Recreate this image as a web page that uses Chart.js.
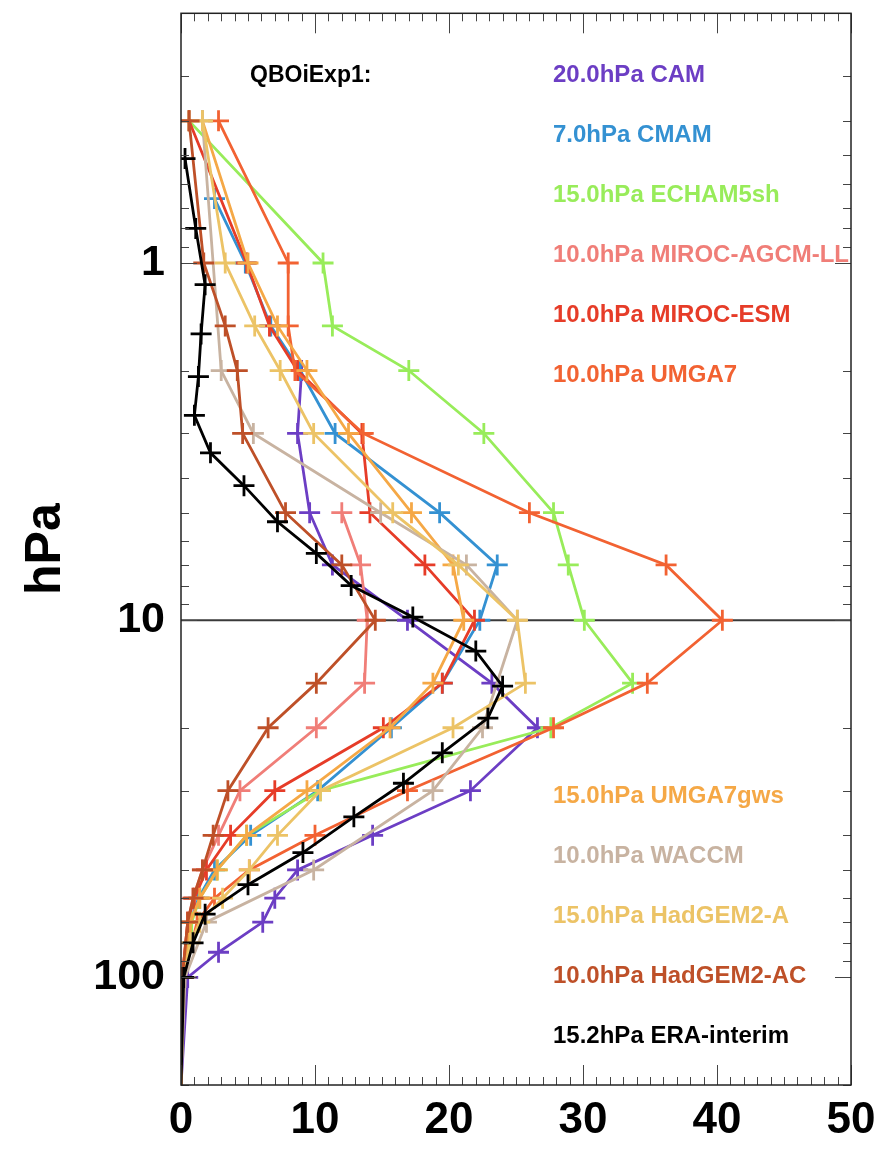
<!DOCTYPE html>
<html lang="en">
<head>
    <meta charset="UTF-8">
    <title>QBOiExp1 amplitude profiles</title>
    <script src="https://cdn.jsdelivr.net/npm/chart.js"></script>
    <style>
        body { margin: 0; background: #fff; }
        canvas { display: block; }
    </style>
</head>
<body>
    <canvas id="grafico" width="879" height="1149"></canvas>

    <script>
        // Amplitude (x) vs pressure in hPa (y), one pair of arrays per model
        const camP = [2, 3, 5, 7, 10, 15, 20, 30, 40, 50, 60, 70, 85, 100, 200];
        const camU = [9.0, 8.7, 9.6, 11.3, 16.9, 23.2, 26.6, 21.6, 14.3, 8.7, 7.0, 6.1, 2.8, 0.5, 0];

        const cmamP = [0.66, 1, 1.5, 2, 3, 5, 7, 10, 15, 20, 30, 40, 50, 60, 70, 100, 200];
        const cmamU = [2.5, 4.8, 6.7, 8.9, 11.5, 19.3, 23.6, 22.3, 19.5, 15.7, 10.2, 5.2, 2.5, 1.3, 0.7, 0.2, 0];

        const echamP = [0.4, 1, 1.5, 2, 3, 5, 7, 10, 15, 20, 30, 40, 50, 60, 70, 100, 200];
        const echamU = [0.6, 10.6, 11.3, 17.0, 22.6, 27.8, 28.9, 30.1, 33.7, 27.6, 10.4, 4.9, 2.7, 1.4, 0.8, 0.1, 0];

        const mirocLLP = [5, 7, 10, 15, 20, 30, 40, 50, 60, 70, 100, 200];
        const mirocLLU = [12.0, 13.4, 13.9, 13.7, 10.1, 4.4, 2.8, 1.6, 0.9, 0.5, 0.1, 0];

        const mirocEsmP = [0.4, 1, 1.5, 2, 3, 5, 7, 10, 15, 20, 30, 40, 50, 60, 70, 100, 200];
        const mirocEsmU = [0.6, 4.9, 6.6, 8.7, 13.5, 14.1, 18.2, 21.9, 19.5, 15.1, 7.0, 3.7, 1.9, 1.0, 0.5, 0.1, 0];

        const umga7P = [0.4, 1, 1.5, 2, 3, 5, 7, 10, 15, 20, 30, 40, 50, 60, 70, 100, 200];
        const umga7U = [2.8, 8.0, 8.0, 8.5, 13.6, 26.0, 36.2, 40.4, 34.8, 27.8, 16.9, 10.0, 5.1, 2.5, 1.2, 0.2, 0];

        const gwsP = [0.4, 1, 1.5, 2, 3, 5, 7, 10, 15, 20, 30, 40, 50, 60, 70, 100, 200];
        const gwsU = [1.6, 5.0, 7.2, 9.4, 12.5, 17.2, 20.3, 21.1, 18.8, 15.6, 9.4, 4.9, 2.7, 1.4, 0.7, 0.1, 0];

        const waccmP = [0.4, 2, 3, 5, 7, 10, 20, 30, 50, 70, 100, 200];
        const waccmU = [1.6, 3.0, 5.4, 14.9, 21.3, 25.1, 22.5, 18.8, 9.9, 1.9, 0.3, 0];

        const hadAP = [0.4, 1, 1.5, 2, 3, 5, 7, 10, 15, 20, 30, 40, 50, 60, 70, 80, 100, 200];
        const hadAU = [1.6, 3.3, 5.5, 7.4, 9.9, 15.8, 20.7, 25.1, 25.7, 20.3, 10.4, 7.2, 5.1, 3.1, 1.4, 0.7, 0.2, 0];

        const hadAcP = [0.4, 1, 1.5, 2, 3, 5, 7, 10, 15, 20, 30, 40, 50, 60, 70, 100, 200];
        const hadAcU = [0.6, 1.7, 3.3, 4.2, 4.6, 7.8, 12.0, 14.5, 10.1, 6.5, 3.5, 2.4, 1.6, 0.9, 0.5, 0.1, 0];

        const eraP = [0.51, 0.8, 1.15, 1.58, 2.08, 2.67, 3.4, 4.2, 5.3, 6.5, 8.0, 9.8, 12.2, 15.3, 18.8, 23.5, 28.6, 35.5, 44.7, 55, 66.5, 80, 100, 200];
        const eraU = [0.3, 1.1, 1.8, 1.5, 1.3, 1.0, 2.2, 4.7, 7.2, 10.1, 12.7, 17.3, 22.0, 24.0, 22.9, 19.5, 16.6, 12.9, 9.1, 5.0, 1.8, 0.9, 0.2, 0];

        const labels = ['20.0hPa CAM', '7.0hPa CMAM', '15.0hPa ECHAM5sh', '10.0hPa MIROC-AGCM-LL',
            '10.0hPa MIROC-ESM', '10.0hPa UMGA7', '15.0hPa UMGA7gws', '10.0hPa WACCM',
            '15.0hPa HadGEM2-A', '10.0hPa HadGEM2-AC', '15.2hPa ERA-interim'];
        const colores = ['#6c3ec4', '#3491d2', '#98ec5a', '#f07e78', '#e63c28', '#f26232',
            '#f5a846', '#c8b3a1', '#ecc366', '#be5028', '#000000'];
        const xTicks = [0, 10, 20, 30, 40, 50];
        const yTicks = [1, 10, 100];

        const series = [
            [camP, camU], [cmamP, cmamU], [echamP, echamU], [mirocLLP, mirocLLU],
            [mirocEsmP, mirocEsmU], [umga7P, umga7U], [gwsP, gwsU], [waccmP, waccmU],
            [hadAP, hadAU], [hadAcP, hadAcU], [eraP, eraU]
        ];

        const fuente = '"Liberation Sans", Arial, Helvetica, sans-serif';

        const datasets = series.map(([p, u], i) => ({
            label: labels[i],
            data: p.map((v, k) => ({ x: u[k], y: v })),
            borderColor: colores[i],
            backgroundColor: colores[i],
            borderWidth: 2.8,
            pointStyle: 'cross',
            // no marker on the last point (bottom of the axis)
            pointRadius: ctx => ctx.dataIndex === ctx.dataset.data.length - 1 ? 0 : 10.5,
            pointBorderWidth: 2.8,
            pointHoverRadius: 10.5,
            fill: false,
            tension: 0,
            order: series.length - i
        }));

        // frame, inward ticks, tick labels, 10 hPa line and the in-plot labels
        const marco = {
            id: 'marco',
            beforeDatasetsDraw(chart) {
                const { ctx, chartArea: a, scales: { y } } = chart;
                const py = y.getPixelForValue(10);
                ctx.save();
                ctx.strokeStyle = '#3a3a3a';
                ctx.lineWidth = 2;
                ctx.beginPath();
                ctx.moveTo(a.left, py);
                ctx.lineTo(a.right, py);
                ctx.stroke();
                ctx.restore();
            },
            afterDraw(chart) {
                const { ctx, chartArea: a, scales: { x, y } } = chart;
                ctx.save();
                ctx.strokeStyle = '#444';
                ctx.lineWidth = 1;
                ctx.beginPath();
                for (let v = 0; v <= 50; v++) {
                    const px = Math.round(x.getPixelForValue(v)) + 0.5;
                    const len = v % 10 === 0 ? 20 : 8;
                    ctx.moveTo(px, a.bottom); ctx.lineTo(px, a.bottom - len);
                    ctx.moveTo(px, a.top); ctx.lineTo(px, a.top + len);
                }
                for (let d = 0.1; d <= 100; d *= 10) {
                    for (let k = 1; k <= 9; k++) {
                        const v = k * d;
                        if (v < 0.2 || v > 200) continue;
                        const py = Math.round(y.getPixelForValue(v)) + 0.5;
                        const len = k === 1 ? 16 : 8;
                        ctx.moveTo(a.left, py); ctx.lineTo(a.left + len, py);
                        ctx.moveTo(a.right, py); ctx.lineTo(a.right - len, py);
                    }
                }
                ctx.stroke();

                ctx.strokeStyle = '#222';
                ctx.lineWidth = 1.5;
                ctx.strokeRect(a.left, a.top, a.width, a.height);

                // tick labels
                ctx.fillStyle = '#000';
                ctx.textBaseline = 'middle';
                ctx.font = 'bold 44px ' + fuente;
                ctx.textAlign = 'center';
                xTicks.forEach(v => ctx.fillText(String(v), x.getPixelForValue(v), a.bottom + 36));
                ctx.font = 'bold 43px ' + fuente;
                ctx.textAlign = 'right';
                yTicks.forEach(v => ctx.fillText(String(v), a.left - 16, y.getPixelForValue(v)));

                // labels inside the plot
                ctx.font = 'bold 23px ' + fuente;
                ctx.textAlign = 'left';
                ctx.fillText('QBOiExp1:', a.left + 69, a.top + 62);
                ctx.font = 'bold 24px ' + fuente;
                chart.data.datasets.forEach((ds, i) => {
                    const fila = i < 6 ? a.top + 62 + i * 60 : a.top + 783 + (i - 6) * 60;
                    ctx.fillStyle = ds.borderColor;
                    ctx.fillText(ds.label, a.left + 372, fila);
                });
                ctx.restore();
            }
        };

        const grafico = new Chart(document.getElementById('grafico'), {
            type: 'line',
            data: { datasets },
            options: {
                responsive: false,
                animation: false,
                layout: { padding: { top: 10, right: 28, left: 0, bottom: 0 } },
                plugins: { legend: { display: false }, tooltip: { enabled: false } },
                scales: {
                    x: {
                        type: 'linear',
                        min: 0,
                        max: 50,
                        grid: { display: false, drawTicks: false },
                        border: { display: false },
                        ticks: { display: false },
                        afterFit: s => { s.height = 64; }
                    },
                    y: {
                        type: 'logarithmic',
                        reverse: true,
                        min: 0.2,
                        max: 200,
                        grid: { display: false, drawTicks: false },
                        border: { display: false },
                        ticks: { display: false },
                        afterFit: s => { s.width = 181; },
                        title: {
                            display: true,
                            text: 'hPa',
                            color: '#000',
                            padding: { top: 16, bottom: 0 },
                            font: { family: fuente, weight: 'bold', size: 50 }
                        }
                    }
                }
            },
            plugins: [marco]
        });
    </script>
</body>
</html>
